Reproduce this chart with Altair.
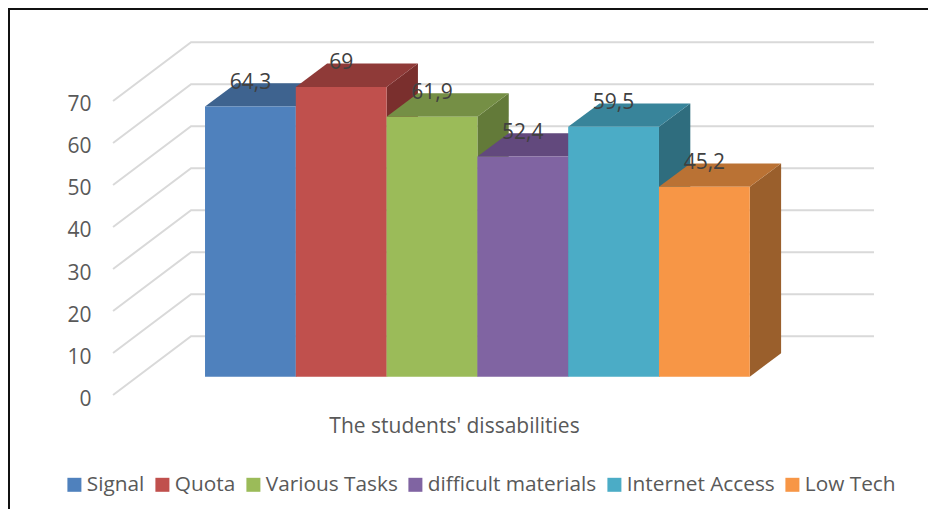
import altair as alt
import pandas as pd

categories = ["Signal", "Quota", "Various Tasks", "difficult materials", "Internet Access", "Low Tech"]
values = [64.3, 69, 61.9, 52.4, 59.5, 45.2]
value_labels = ["64,3", "69", "61,9", "52,4", "59,5", "45,2"]
front_colors = ["#4F81BD", "#C0504D", "#9BBB59", "#8064A2", "#4BACC6", "#F79646"]
top_colors = ["#3E638F", "#8F3A38", "#758F45", "#62497D", "#38849A", "#BA7234"]
side_colors = ["#335377", "#7A2F2D", "#637A39", "#523D69", "#2F6D7E", "#9A5F2C"]
gridline_values = [0, 10, 20, 30, 40, 50, 60, 70]

# Projection of the pseudo-3D box, in axis units
W, H = 920, 501
X_DOMAIN = [-2.170, 7.963]
Y_DOMAIN = [-27.14, 92.14]
BAR_BASE = 4.36
BAR_DX, BAR_DY = 0.345, 5.57
WALL_X0, WALL_X1, WALL_X2 = -1.013, -0.154, 7.368
WALL_DY = 14.0
LABEL_LIFT = 5.7
FONT = "Open Sans"
FS = 21

xs = alt.Scale(domain=X_DOMAIN, nice=False, zero=False)
ys = alt.Scale(domain=Y_DOMAIN, nice=False, zero=False)

grid_rows = []
for v in gridline_values:
    grid_rows += [
        {"v": v, "x": WALL_X0, "y": v},
        {"v": v, "x": WALL_X1, "y": v + WALL_DY},
        {"v": v, "x": WALL_X2, "y": v + WALL_DY},
    ]

front_rows, side_rows, top_rows, label_rows = [], [], [], []
for i, (c, v) in enumerate(zip(categories, values)):
    base, peak = BAR_BASE, BAR_BASE + v
    front_rows.append({"category": c, "x": i, "x2": i + 1, "y": base, "y2": peak})
    side_rows += [
        {"k": c, "col": side_colors[i], "x": i + 1, "y": base, "y2": peak},
        {"k": c, "col": side_colors[i], "x": i + 1 + BAR_DX, "y": base + BAR_DY, "y2": peak + BAR_DY},
    ]
    top_rows += [
        {"k": c, "col": top_colors[i], "y": peak, "x": i, "x2": i + 1},
        {"k": c, "col": top_colors[i], "y": peak + BAR_DY, "x": i + BAR_DX, "x2": i + 1 + BAR_DX},
    ]
    label_rows.append({"x": i + 0.5, "y": peak + LABEL_LIFT, "t": value_labels[i]})

grid = (
    alt.Chart(pd.DataFrame(grid_rows))
    .mark_line(color="#D9D9D9", strokeWidth=2, clip=False)
    .encode(
        x=alt.X(
            "x:Q", scale=xs,
            axis=alt.Axis(
                title="The students' dissabilities", labels=False, ticks=False, domain=False, grid=False,
                titleX=446, titleY=-83, titleFont=FONT, titleFontSize=FS, titleFontWeight="normal",
                titleColor="#595959", titleAnchor="middle", titleAlign="center", titleBaseline="middle",
            ),
        ),
        y=alt.Y(
            "y:Q", scale=ys,
            axis=alt.Axis(
                title=None, values=gridline_values, ticks=False, domain=False, grid=False,
                offset=-83, labelPadding=0, labelOffset=4, labelFont=FONT, labelFontSize=FS, labelColor="#595959",
            ),
        ),
        detail="v:N",
    )
)

side = (
    alt.Chart(pd.DataFrame(side_rows))
    .mark_area(orient="vertical", opacity=1)
    .encode(
        x=alt.X("x:Q", scale=xs, axis=None),
        y=alt.Y("y:Q", scale=ys, axis=None, stack=None),
        y2="y2:Q",
        color=alt.Color("col:N", scale=None),
        detail="k:N",
    )
)

top = (
    alt.Chart(pd.DataFrame(top_rows))
    .mark_area(orient="horizontal", opacity=1)
    .encode(
        y=alt.Y("y:Q", scale=ys, axis=None),
        x=alt.X("x:Q", scale=xs, axis=None, stack=None),
        x2="x2:Q",
        color=alt.Color("col:N", scale=None),
        detail="k:N",
    )
)

front = (
    alt.Chart(pd.DataFrame(front_rows))
    .mark_rect()
    .encode(
        x=alt.X("x:Q", scale=xs, axis=None),
        x2="x2:Q",
        y=alt.Y("y:Q", scale=ys, axis=None),
        y2="y2:Q",
        color=alt.Color(
            "category:N",
            scale=alt.Scale(domain=categories, range=front_colors),
            legend=alt.Legend(
                title=None, orient="none", legendX=56, legendY=466, direction="horizontal", columns=6,
                symbolType="square", symbolSize=196, symbolStrokeWidth=0, symbolOpacity=1,
                labelFont=FONT, labelFontSize=20.8, labelColor="#595959", labelOffset=2,
                columnPadding=7, labelLimit=300,
            ),
        ),
    )
)

labels = (
    alt.Chart(pd.DataFrame(label_rows))
    .mark_text(font=FONT, fontSize=FS, color="#404040", baseline="middle", align="center")
    .encode(
        x=alt.X("x:Q", scale=xs, axis=None),
        y=alt.Y("y:Q", scale=ys, axis=None),
        text="t:N",
    )
)

blank = alt.Data(values=[{}])
border_top = alt.Chart(blank).mark_rule(color="#111111", strokeWidth=2).encode(
    x=alt.value(0), x2=alt.value(W), y=alt.value(1)
)
border_left = alt.Chart(blank).mark_rule(color="#111111", strokeWidth=2).encode(
    x=alt.value(1), y=alt.value(0), y2=alt.value(H)
)

chart = (
    alt.layer(grid, side, top, front, labels, border_top, border_left)
    .resolve_axis(x="independent", y="independent")
    .resolve_scale(color="independent")
    .properties(width=W, height=H, padding=0, autosize=alt.AutoSizeParams(type="none"), background="white")
    .configure_view(stroke=None)
)

chart.save("out.html", embed_options={"renderer": "svg", "actions": False})
